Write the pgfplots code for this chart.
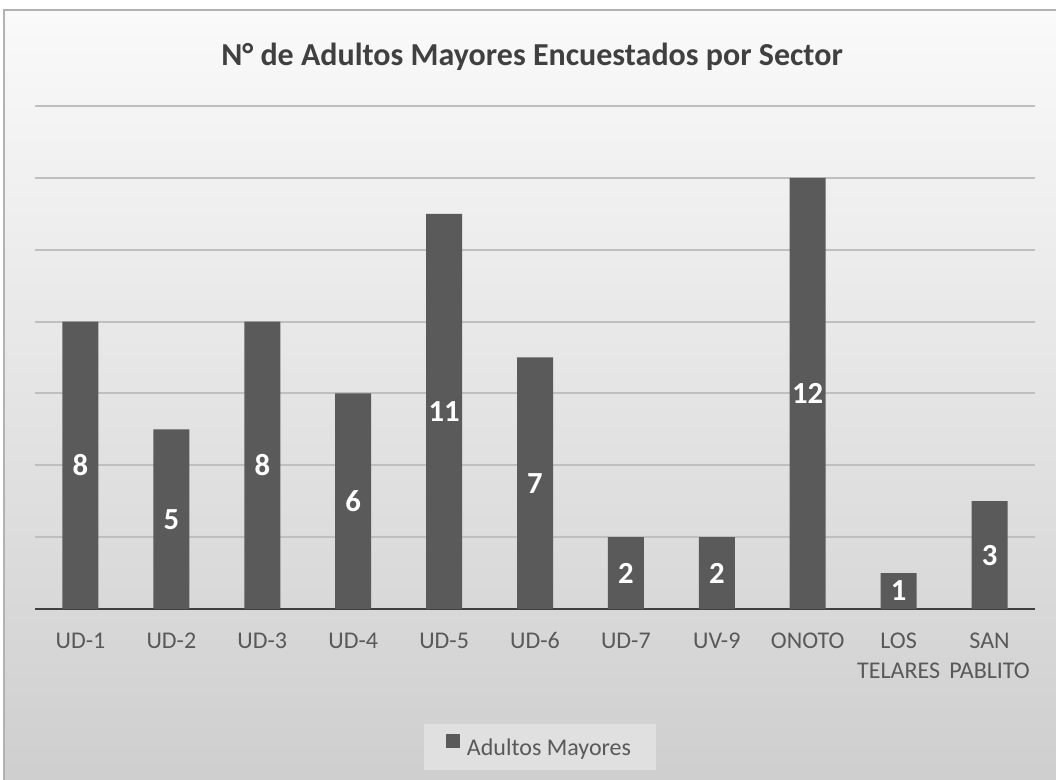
\documentclass[border=0pt]{standalone}
\usepackage{pgfplots}
\pgfplotsset{compat=1.18}
\usepackage{fontspec}
\setmainfont{Carlito}
\definecolor{barc}{HTML}{5A5A5A}
\definecolor{txt}{HTML}{595959}
\definecolor{ttl}{HTML}{404040}
\definecolor{gridc}{HTML}{BFBFBF}
\definecolor{legc}{HTML}{E0E0E0}
\begin{document}
\begin{tikzpicture}
\useasboundingbox (0,0) rectangle (792pt,585pt);
\fill[white] (0,0) rectangle (792pt,585pt);
\shade[top color=black!2, middle color=black!10, bottom color=black!19] (3pt,0) rectangle (792pt,577.5pt);
\draw[black!30, line width=1pt] (3pt,0) -- (3pt,577.5pt) -- (792pt,577.5pt);
\node[font=\bfseries\fontsize{24}{28}\selectfont, text=ttl, anchor=base] at (399pt,535.5pt) {N° de Adultos Mayores Encuestados por Sector};
\begin{axis}[
  at={(26.25pt,128.25pt)}, anchor=south west, scale only axis,
  width=750pt, height=377.25pt,
  xmin=-0.5, xmax=10.5, ymin=0, ymax=14,
  ybar, bar width=27pt,
  axis x line*=bottom, axis y line*=left,
  y axis line style={draw=none},
  x axis line style={line width=2.2pt, color=ttl, -},
  ytick={2,4,...,14}, yticklabels={}, ymajorgrids,
  grid style={line width=1.5pt, color=gridc},
  xtick={0,...,10},
  xticklabels={UD-1,UD-2,UD-3,UD-4,UD-5,UD-6,UD-7,UV-9,ONOTO,{LOS\\TELARES},{SAN\\PABLITO}},
  major tick length=0pt,
  typeset ticklabels with strut,
  xticklabel style={font=\fontsize{18}{22.5}\selectfont, text=txt, align=center, yshift=-10pt},
  /pgf/number format/assume math mode=true,
  visualization depends on={y \as \rawy},
  nodes near coords,
  nodes near coords style={font=\bfseries\fontsize{23}{23}\selectfont, text=white, anchor=center, shift={(axis direction cs:0,-\rawy/2)}},
  legend style={at={(0.505,-0.2753)}, anchor=center, fill=legc, draw=none, font=\fontsize{18}{22}\selectfont, text=txt, inner xsep=17pt, inner ysep=7.5pt},
  legend image code/.code={\fill[#1] (0pt,0.5pt) rectangle (10pt,10.5pt); \path (13.5pt,0pt);},
]
\addplot[fill=barc, draw=none] coordinates {(0,8) (1,5) (2,8) (3,6) (4,11) (5,7) (6,2) (7,2) (8,12) (9,1) (10,3)};
\addlegendentry{Adultos Mayores}
\end{axis}
\end{tikzpicture}
\end{document}
